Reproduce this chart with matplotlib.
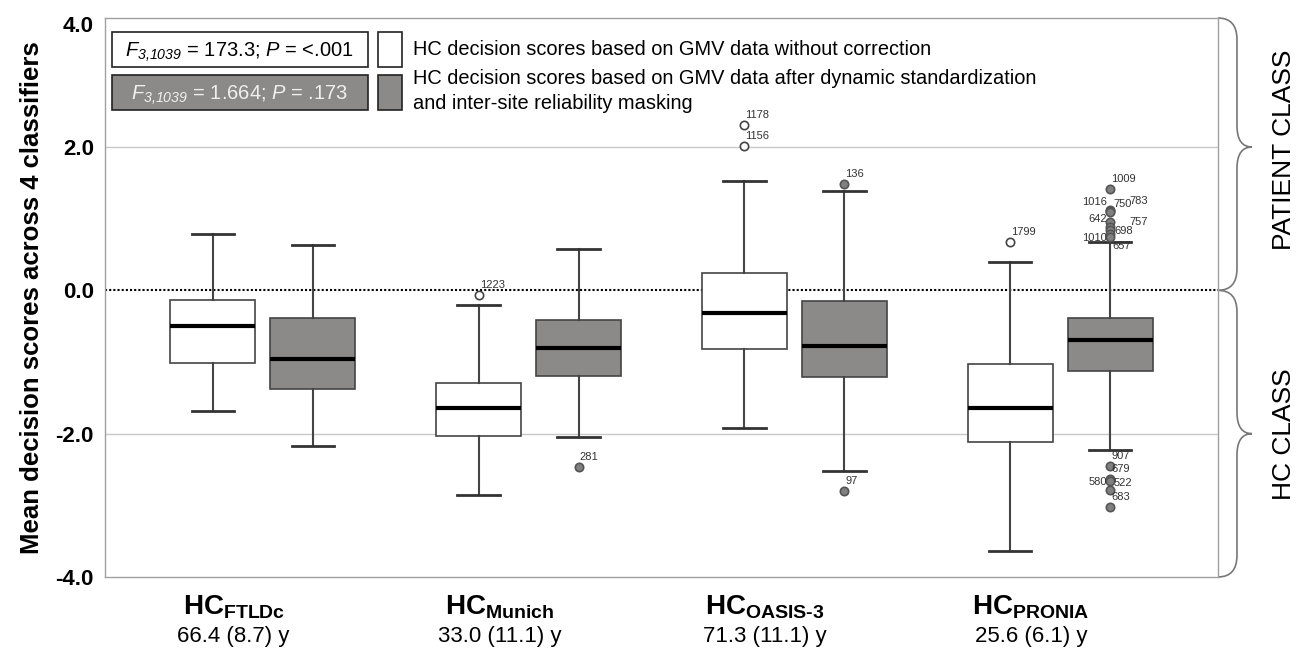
import matplotlib
matplotlib.use("Agg")
import matplotlib.pyplot as plt
import matplotlib.transforms as mtransforms
from matplotlib.patches import Rectangle, PathPatch
from matplotlib.path import Path

plt.rcParams["font.family"] = ["Liberation Sans", "DejaVu Sans"]
plt.rcParams["mathtext.fontset"] = "custom"
# the F statistics are all italic, digits included
plt.rcParams["mathtext.rm"] = "Liberation Sans:italic"
plt.rcParams["mathtext.it"] = "Liberation Sans:italic"
plt.rcParams["mathtext.bf"] = "Liberation Sans:bold"

# data
sites = ["FTLDc", "Munich", "OASIS\u20103", "PRONIA"]
ages = ["66.4 (8.7) y", "33.0 (11.1) y", "71.3 (11.1) y", "25.6 (6.1) y"]

# without correction (white boxes)
raw_whislo = [-1.69, -2.86, -1.92, -3.64]
raw_q1 = [-1.02, -2.03, -0.82, -2.12]
raw_med = [-0.50, -1.64, -0.31, -1.64]
raw_q3 = [-0.13, -1.30, 0.24, -1.03]
raw_whishi = [0.78, -0.20, 1.52, 0.40]
raw_out = [[], [-0.07], [2.31, 2.02], [0.68]]
raw_out_labels = [[], ["1223"], ["1178", "1156"], ["1799"]]

# after dynamic standardization + masking (gray boxes)
cor_whislo = [-2.17, -2.04, -2.52, -2.23]
cor_q1 = [-1.38, -1.19, -1.21, -1.12]
cor_med = [-0.96, -0.80, -0.77, -0.70]
cor_q3 = [-0.39, -0.42, -0.15, -0.38]
cor_whishi = [0.63, 0.57, 1.39, 0.68]
cor_out = [[], [-2.47], [1.48, -2.80],
           [1.42, 1.12, 1.11, 1.10, 0.96, 0.89, 0.84, 0.78, 0.74,
            -2.45, -2.63, -2.66, -2.79, -3.03]]
cor_out_labels = [[], ["281"], ["136", "97"],
                  ["1009", "1016", "750", "783", "642", "757", "698", "1010", "657",
                   "907", "679", "580", "522", "683"]]

stat_f1 = r"$F_{3{,}1039}$ = 173.3; $P$ = <.001"
stat_f2 = r"$F_{3{,}1039}$ = 1.664; $P$ = .173"
legend1 = "HC decision scores based on GMV data without correction"
legend2a = "HC decision scores based on GMV data after dynamic standardization"
legend2b = "and inter-site reliability masking"

# label placement tweaks (pixels) for crowded outliers
label_offsets = {
    "1016": (-3, 8, "right"), "750": (3, 7, "left"), "783": (19, 11, "left"),
    "642": (-3, 3, "right"), "757": (19, 5, "left"), "698": (4, -1, "left"),
    "1010": (-3, -4, "right"), "657": (2, -9, "left"),
    "580": (-3, -1, "right"), "522": (4, 7, "left"),
}

GRAY = "#8c8a89"
EDGE = "#444444"

fig = plt.figure(figsize=(13.06, 6.55), dpi=100)
ax = fig.add_axes([0.0804, 0.1191, 0.8522, 0.8534])

pos_raw = [i - 0.188 for i in range(len(sites))]
pos_cor = [i + 0.188 for i in range(len(sites))]

stats_raw = []
stats_cor = []
for i in range(len(sites)):
    stats_raw.append(dict(med=raw_med[i], q1=raw_q1[i], q3=raw_q3[i],
                          whislo=raw_whislo[i], whishi=raw_whishi[i], fliers=raw_out[i]))
    stats_cor.append(dict(med=cor_med[i], q1=cor_q1[i], q3=cor_q3[i],
                          whislo=cor_whislo[i], whishi=cor_whishi[i], fliers=cor_out[i]))

common = dict(widths=0.32, capwidths=0.16, patch_artist=True, manage_ticks=False,
              medianprops=dict(color="black", linewidth=3),
              whiskerprops=dict(color=EDGE, linewidth=1.5),
              capprops=dict(color="#333333", linewidth=2))

ax.bxp(stats_raw, positions=pos_raw,
       boxprops=dict(facecolor="white", edgecolor=EDGE, linewidth=1.2),
       flierprops=dict(marker="o", markerfacecolor="white", markeredgecolor=EDGE,
                       markersize=6, markeredgewidth=1.2),
       **common)
ax.bxp(stats_cor, positions=pos_cor,
       boxprops=dict(facecolor=GRAY, edgecolor=EDGE, linewidth=1.2),
       flierprops=dict(marker="o", markerfacecolor="#808080", markeredgecolor="#555555",
                       markersize=6, markeredgewidth=1.2),
       **common)

for positions, outs, labs in [(pos_raw, raw_out, raw_out_labels), (pos_cor, cor_out, cor_out_labels)]:
    for i in range(len(sites)):
        for v, lab in zip(outs[i], labs[i]):
            dx, dy, ha = label_offsets.get(lab, (1, 10, "left"))
            ax.annotate(lab, (positions[i], v), xytext=(dx, dy), textcoords="offset pixels",
                        ha=ha, va="center", fontsize=8, color="#333333")

ax.axhline(0, color="black", linestyle=(0, (1, 1)), linewidth=1.5, zorder=0)
for yv in [2, -2]:
    ax.axhline(yv, color="#c8c8c8", linewidth=1, zorder=0)

ax.set_xlim(-0.594, 3.594)
ax.set_ylim(-4, 3.8)
ax.set_xticks([])
ax.set_yticks([-4, -2, 0, 2, 3.72])
ax.set_yticklabels(["-4.0", "-2.0", "0.0", "2.0", "4.0"], fontsize=16, fontweight="bold")
ax.tick_params(axis="y", length=0, pad=8)
for s in ax.spines.values():
    s.set_color("#a0a0a0")
    s.set_linewidth(1)

ax.set_ylabel("Mean decision scores across 4 classifiers", fontsize=18.5, fontweight="bold")
ax.yaxis.set_label_coords(-0.055, 0.5)

# legend drawn by hand
ax.add_patch(Rectangle((0.0063, 0.912), 0.23, 0.063, transform=ax.transAxes,
                       facecolor="white", edgecolor="#222222", linewidth=1.2))
ax.add_patch(Rectangle((0.0063, 0.835), 0.23, 0.063, transform=ax.transAxes,
                       facecolor=GRAY, edgecolor="#222222", linewidth=1.2))
ax.add_patch(Rectangle((0.245, 0.912), 0.022, 0.063, transform=ax.transAxes,
                       facecolor="white", edgecolor="#222222", linewidth=1.2))
ax.add_patch(Rectangle((0.245, 0.835), 0.022, 0.063, transform=ax.transAxes,
                       facecolor=GRAY, edgecolor="#222222", linewidth=1.2))
ax.text(0.121, 0.938, stat_f1, transform=ax.transAxes, ha="center", va="center", fontsize=14.5)
ax.text(0.121, 0.861, stat_f2, transform=ax.transAxes, ha="center", va="center",
        fontsize=14.5, color="#f0f0f0")
ax.text(0.277, 0.9435, legend1, transform=ax.transAxes, ha="left", va="center", fontsize=14.4)
ax.text(0.277, 0.891, legend2a, transform=ax.transAxes, ha="left", va="center", fontsize=14.4)
ax.text(0.277, 0.847, legend2b, transform=ax.transAxes, ha="left", va="center", fontsize=14.4)

# group labels under the boxes
tr = mtransforms.blended_transform_factory(ax.transData, ax.transAxes)
for i in range(len(sites)):
    ax.text(i - 0.11, -0.055, r"$\mathbf{HC}_{\mathbf{%s}}$" % sites[i], transform=tr,
            ha="center", va="center", fontsize=20)
    ax.text(i - 0.11, -0.106, ages[i], transform=tr, ha="center", va="center", fontsize=16)

# braces on the right
tb = mtransforms.blended_transform_factory(ax.transAxes, ax.transData)


def brace(ya, ym, yb):
    x0 = 1.0
    x1 = 1.0 + 19 / 1113
    x2 = 1.0 + 34 / 1113
    r = 0.3
    verts = [(x0, ya), (x1, ya), (x1, ya - r), (x1, ym + r), (x1, ym), (x2, ym),
             (x1, ym), (x1, ym - r), (x1, yb + r), (x1, yb), (x0, yb)]
    codes = [Path.MOVETO, Path.CURVE3, Path.CURVE3, Path.LINETO, Path.CURVE3, Path.CURVE3,
             Path.CURVE3, Path.CURVE3, Path.LINETO, Path.CURVE3, Path.CURVE3]
    ax.add_patch(PathPatch(Path(verts, codes), transform=tb, facecolor="none",
                           edgecolor="#777777", linewidth=1.2, clip_on=False))


brace(3.8, 2.0, 0.0)
brace(0.0, -2.0, -4.0)

fig.text(0.983, 0.771, "PATIENT CLASS", rotation=90, ha="center", va="center", fontsize=19)
fig.text(0.983, 0.337, "HC CLASS", rotation=90, ha="center", va="center", fontsize=19)

fig.savefig("out.png", dpi=100)
